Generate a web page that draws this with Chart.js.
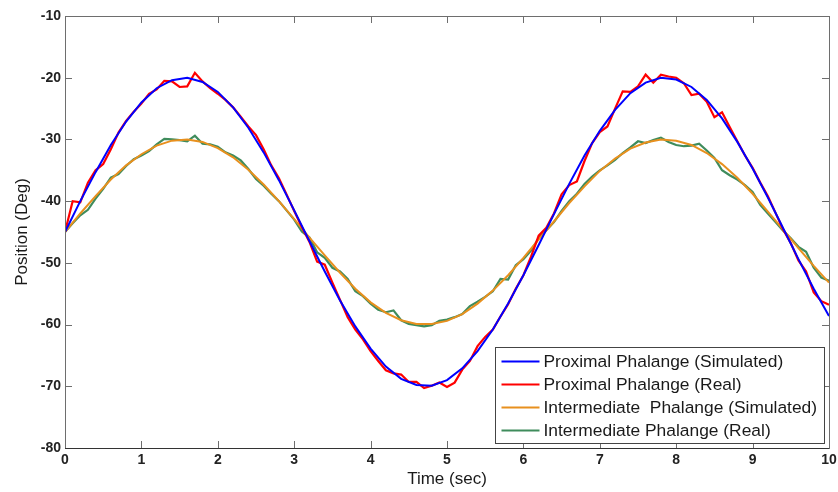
<!DOCTYPE html>
<html>
<head>
<meta charset="utf-8">
<script src="https://cdn.jsdelivr.net/npm/chart.js@4.4.1/dist/chart.umd.min.js"></script>
<style>
  html, body { margin: 0; padding: 0; background: #fff; }
  #wrap { width: 838px; height: 492px; }
</style>
</head>
<body>
<div id="wrap"><canvas id="c" width="838" height="492"></canvas></div>
<script>
// Tijdassen (sec): gesimuleerd elke 0.2 s, gemeten elke 0.1 s
const tSim = [0, 0.2, 0.4, 0.6, 0.8, 1.0, 1.2, 1.4, 1.6, 1.8, 2.0, 2.2, 2.4, 2.6, 2.8, 3.0, 3.2, 3.4, 3.6, 3.8,
  4.0, 4.2, 4.4, 4.6, 4.8, 5.0, 5.2, 5.4, 5.6, 5.8, 6.0, 6.2, 6.4, 6.6, 6.8, 7.0, 7.2, 7.4, 7.6, 7.8,
  8.0, 8.2, 8.4, 8.6, 8.8, 9.0, 9.2, 9.4, 9.6, 9.8, 10.0];
const tReal = [0, 0.1, 0.2, 0.3, 0.4, 0.5, 0.6, 0.7, 0.8, 0.9, 1.0, 1.1, 1.2, 1.3, 1.4, 1.5, 1.6, 1.7, 1.8, 1.9,
  2.0, 2.1, 2.2, 2.3, 2.4, 2.5, 2.6, 2.7, 2.8, 2.9, 3.0, 3.1, 3.2, 3.3, 3.4, 3.5, 3.6, 3.7, 3.8, 3.9,
  4.0, 4.1, 4.2, 4.3, 4.4, 4.5, 4.6, 4.7, 4.8, 4.9, 5.0, 5.1, 5.2, 5.3, 5.4, 5.5, 5.6, 5.7, 5.8, 5.9,
  6.0, 6.1, 6.2, 6.3, 6.4, 6.5, 6.6, 6.7, 6.8, 6.9, 7.0, 7.1, 7.2, 7.3, 7.4, 7.5, 7.6, 7.7, 7.8, 7.9,
  8.0, 8.1, 8.2, 8.3, 8.4, 8.5, 8.6, 8.7, 8.8, 8.9, 9.0, 9.1, 9.2, 9.3, 9.4, 9.5, 9.6, 9.7, 9.8, 9.9, 10.0];

// Posities (Deg)
const proxSim = [-45.0, -40.0, -35.3, -30.9, -27.1, -24.0, -21.7, -20.4, -20.0, -20.7,
  -22.3, -24.8, -28.1, -32.1, -36.6, -41.5, -46.5, -51.4, -56.1, -60.3,
  -63.9, -66.8, -68.8, -69.8, -69.9, -69.0, -67.1, -64.3, -60.8, -56.6,
  -52.0, -47.1, -42.1, -37.2, -32.6, -28.6, -25.2, -22.5, -20.8, -20.0,
  -20.3, -21.5, -23.6, -26.6, -30.4, -34.7, -39.4, -44.4, -49.4, -54.2, -58.6];
const proxReal = [-45.0, -40.0, -40.2, -37.0, -35.0, -34.0, -31.6, -28.9, -27.0, -25.5,
  -24.2, -22.6, -21.9, -20.5, -20.6, -21.5, -21.4, -19.2, -20.6, -21.7,
  -22.6, -23.6, -24.8, -26.3, -27.9, -29.3, -31.6, -34.2, -36.3, -38.9,
  -41.6, -44.2, -46.6, -49.8, -50.3, -53.2, -56.0, -58.8, -60.8, -62.4,
  -64.3, -65.9, -67.4, -67.9, -68.1, -69.3, -69.3, -70.3, -69.9, -69.4,
  -70.1, -69.4, -67.3, -65.9, -63.5, -62.0, -60.8, -58.7, -56.7, -54.2,
  -52.0, -49.0, -45.6, -44.3, -42.0, -38.9, -37.4, -36.8, -33.5, -30.6,
  -28.8, -27.9, -25.0, -22.2, -22.3, -21.4, -19.5, -20.8, -19.5, -19.8,
  -20.0, -20.9, -22.8, -22.6, -23.9, -26.4, -25.6, -28.0, -30.3, -32.6,
  -34.6, -37.0, -39.2, -41.9, -44.6, -46.8, -49.6, -51.4, -54.8, -56.2, -56.8];
const interSim = [-45.0, -42.0, -39.2, -36.5, -34.2, -32.4, -31.0, -30.2, -30.0, -30.4,
  -31.4, -32.9, -34.9, -37.3, -40.0, -42.9, -45.9, -48.8, -51.6, -54.2,
  -56.4, -58.1, -59.3, -59.9, -59.9, -59.4, -58.3, -56.6, -54.5, -52.0,
  -49.2, -46.2, -43.3, -40.3, -37.6, -35.1, -33.1, -31.5, -30.5, -30.0,
  -30.2, -30.9, -32.2, -34.0, -36.2, -38.8, -41.7, -44.6, -47.6, -50.5, -53.2];
const interReal = [-45.0, -43.6, -42.3, -41.4, -39.6, -38.0, -36.2, -35.6, -34.3, -33.2,
  -32.6, -31.9, -30.8, -29.9, -30.0, -30.1, -30.3, -29.4, -30.7, -30.8,
  -31.2, -32.1, -32.6, -33.4, -34.8, -36.4, -37.5, -38.8, -40.0, -41.5,
  -43.0, -44.9, -45.9, -48.3, -49.2, -50.8, -51.4, -52.6, -54.6, -55.4,
  -56.6, -57.6, -58.0, -57.7, -59.3, -59.9, -60.1, -60.3, -60.1, -59.4,
  -59.2, -58.8, -58.3, -57.0, -56.3, -55.5, -54.6, -52.6, -52.7, -50.4,
  -49.4, -48.0, -46.0, -44.7, -43.4, -41.6, -40.0, -38.8, -37.2, -36.0,
  -35.0, -34.2, -33.3, -32.2, -31.3, -30.3, -30.6, -30.1, -29.7, -30.4,
  -30.9, -31.1, -31.0, -30.7, -31.8, -33.0, -35.0, -35.8, -36.5, -37.4,
  -38.5, -40.6, -42.0, -43.4, -44.8, -46.0, -47.4, -48.2, -50.8, -52.4, -52.9];

const seriesLabels = ['Proximal Phalange (Simulated)', 'Proximal Phalange (Real)',
  'Intermediate  Phalange (Simulated)', 'Intermediate Phalange (Real)'];
const xTicks = [0, 1, 2, 3, 4, 5, 6, 7, 8, 9, 10];
const yTicks = [-80, -70, -60, -50, -40, -30, -20, -10];

(function () {
  'use strict';

  const FONT = "'Liberation Sans', Arial, sans-serif";
  const AXIS = '#6e6e6e';
  const COLORS = ['#0000ff', '#ff0000', '#e8901e', '#3f8c5c'];

  function pts(xs, ys) {
    return xs.map((x, i) => ({ x, y: ys[i] }));
  }

  function ds(i, data, width) {
    return {
      label: seriesLabels[i],
      data,
      borderColor: COLORS[i],
      backgroundColor: COLORS[i],
      borderWidth: width,
      pointRadius: 0,
      tension: 0,
      fill: false,
    };
  }

  // Kader rondom het plotvlak + tick-streepjes naar binnen (MATLAB-stijl)
  const boxTicks = {
    id: 'boxTicks',
    afterDraw(chart) {
      const { ctx, chartArea: a, scales: { x, y } } = chart;
      const len = 7;
      ctx.save();
      ctx.strokeStyle = AXIS;
      ctx.lineWidth = 1;
      ctx.beginPath();
      xTicks.forEach((v) => {
        const px = Math.round(x.getPixelForValue(v)) + 0.5;
        ctx.moveTo(px, a.bottom); ctx.lineTo(px, a.bottom - len);
        ctx.moveTo(px, a.top); ctx.lineTo(px, a.top + len);
      });
      yTicks.forEach((v) => {
        const py = Math.round(y.getPixelForValue(v)) + 0.5;
        ctx.moveTo(a.left, py); ctx.lineTo(a.left + len, py);
        ctx.moveTo(a.right, py); ctx.lineTo(a.right - len, py);
      });
      ctx.stroke();
      ctx.strokeRect(Math.round(a.left) + 0.5, Math.round(a.top) + 0.5,
        Math.round(a.right - a.left), Math.round(a.bottom - a.top));
      ctx.strokeStyle = '#333';
      ctx.beginPath();
      ctx.moveTo(a.left, Math.round(a.bottom) + 0.5);
      ctx.lineTo(a.right, Math.round(a.bottom) + 0.5);
      ctx.stroke();
      ctx.restore();
    },
  };

  // Legenda rechtsonder binnen het plotvlak
  const boxLegend = {
    id: 'boxLegend',
    afterDraw(chart) {
      const { ctx, chartArea: a } = chart;
      const w = 329, h = 96;
      const x0 = Math.round(a.right - 5 - w) + 0.5;
      const y0 = Math.round(a.bottom - 5 - h) + 0.5;
      ctx.save();
      ctx.fillStyle = '#fff';
      ctx.fillRect(x0, y0, w, h);
      ctx.strokeStyle = '#444';
      ctx.lineWidth = 1;
      ctx.strokeRect(x0, y0, w, h);
      ctx.font = '17.4px ' + FONT;
      ctx.textBaseline = 'middle';
      chart.data.datasets.forEach((d, i) => {
        const cy = y0 + 14 + i * 23;
        ctx.strokeStyle = d.borderColor;
        ctx.lineWidth = 2;
        ctx.beginPath();
        ctx.moveTo(x0 + 6, cy);
        ctx.lineTo(x0 + 44, cy);
        ctx.stroke();
        ctx.fillStyle = '#1a1a1a';
        ctx.fillText(d.label, x0 + 48, cy + 1);
      });
      ctx.restore();
    },
  };

  new Chart(document.getElementById('c'), {
    type: 'line',
    data: {
      datasets: [
        ds(0, pts(tSim, proxSim), 2),
        ds(1, pts(tReal, proxReal), 2.2),
        ds(2, pts(tSim, interSim), 2),
        ds(3, pts(tReal, interReal), 2.2),
      ],
    },
    options: {
      responsive: false,
      animation: false,
      layout: { padding: { top: 16, right: 9, left: 0, bottom: 0 } },
      plugins: { legend: { display: false }, tooltip: { enabled: false } },
      scales: {
        x: {
          type: 'linear',
          min: 0,
          max: 10,
          afterFit: (s) => { s.height = 44; s.paddingRight = 0; s.paddingLeft = 0; },
          afterBuildTicks: (s) => { s.ticks = xTicks.map((v) => ({ value: v })); },
          grid: { display: false, drawTicks: false },
          border: { display: false },
          ticks: { color: '#222', padding: 4, font: { family: FONT, size: 14, weight: 'bold' } },
          title: {
            display: true,
            text: 'Time (sec)',
            color: '#1a1a1a',
            padding: { top: 0, bottom: 2 },
            font: { family: FONT, size: 17 },
          },
        },
        y: {
          min: -80,
          max: -10,
          afterFit: (s) => { s.width = 65; s.paddingTop = 0; s.paddingBottom = 0; },
          afterBuildTicks: (s) => { s.ticks = yTicks.map((v) => ({ value: v })); },
          grid: { display: false, drawTicks: false },
          border: { display: false },
          ticks: { color: '#222', padding: 4, font: { family: FONT, size: 14, weight: 'bold' } },
          title: {
            display: true,
            text: 'Position (Deg)',
            color: '#1a1a1a',
            padding: { top: 12, bottom: 0 },
            font: { family: FONT, size: 17 },
          },
        },
      },
    },
    plugins: [boxTicks, boxLegend],
  });
})();
</script>
</body>
</html>
